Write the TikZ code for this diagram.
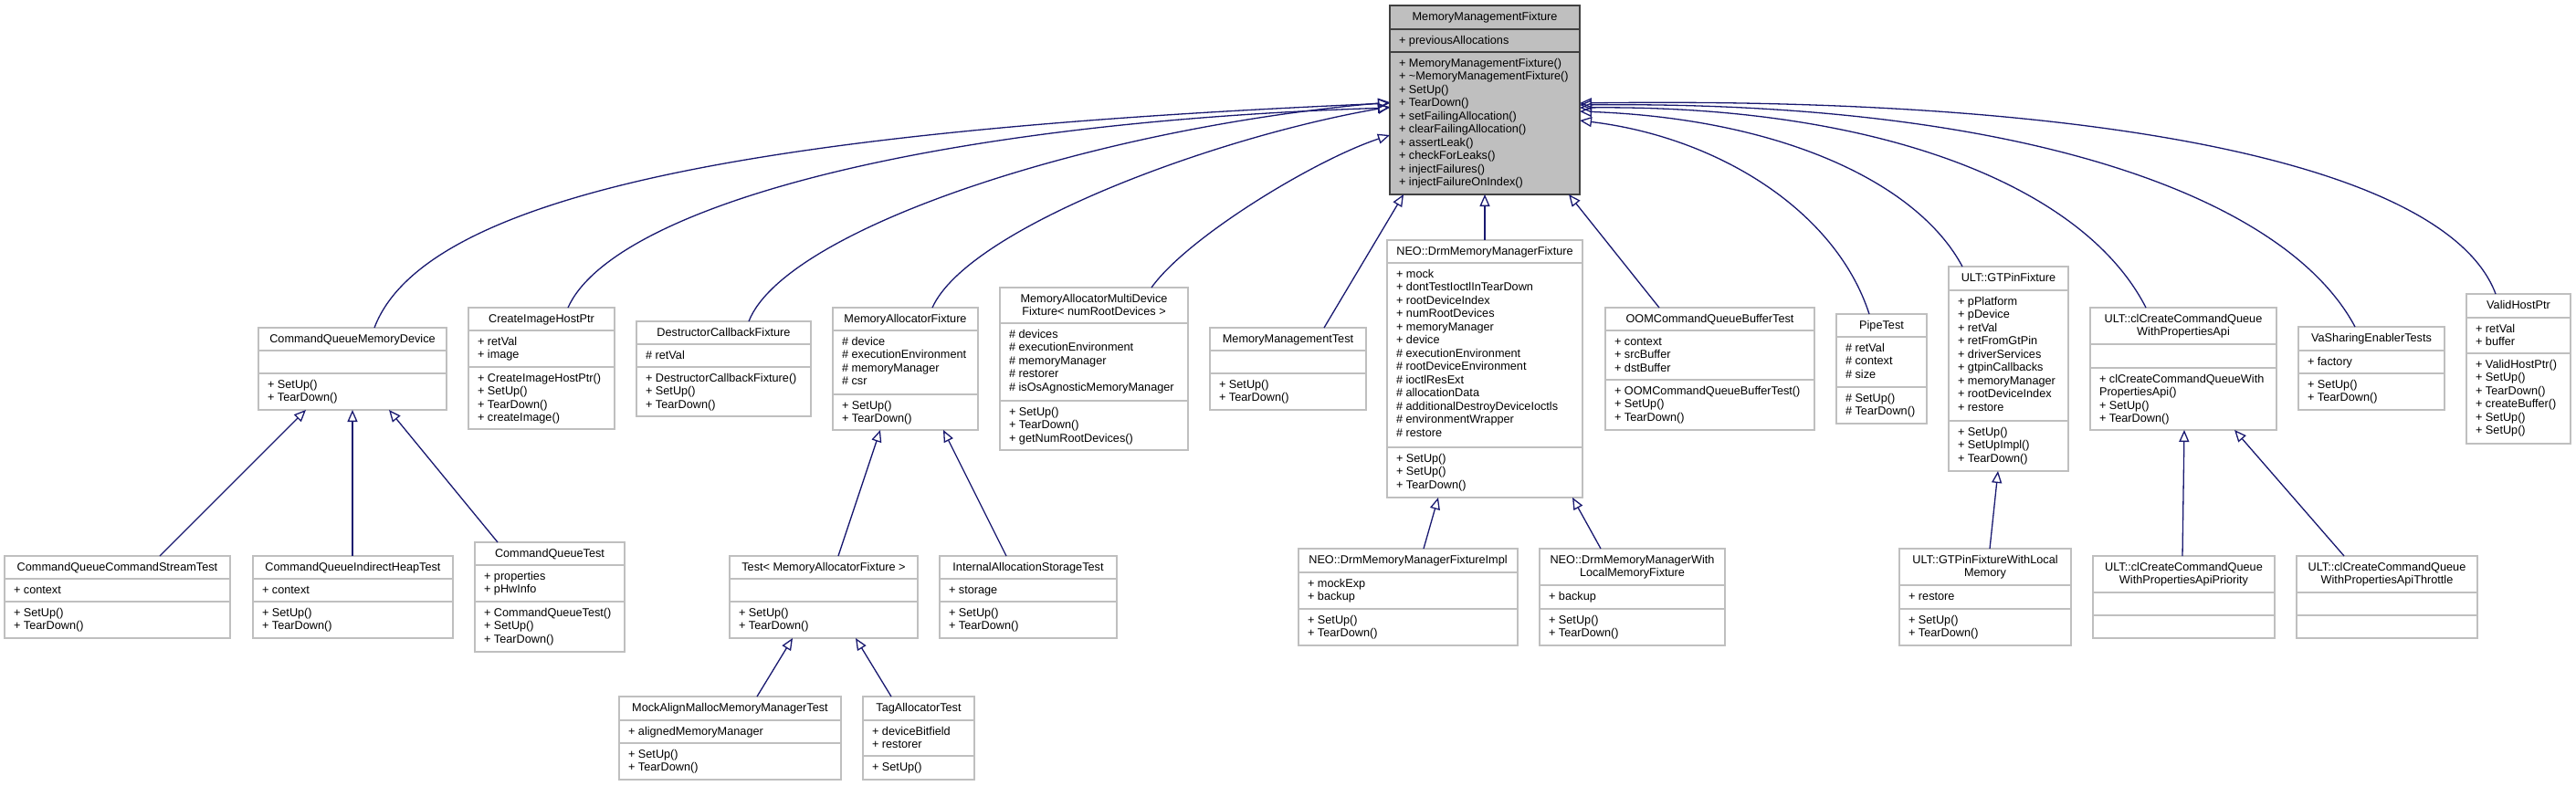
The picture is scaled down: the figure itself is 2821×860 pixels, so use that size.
\documentclass[tikz,border=0pt]{standalone}
\usepackage{fontspec}
\setmainfont{Liberation Sans}
\usetikzlibrary{arrows.meta,fit}
\definecolor{edgeblue}{RGB}{25,25,112}
\definecolor{boxgray}{RGB}{191,191,191}
\definecolor{rootfill}{RGB}{191,191,191}
\definecolor{rootline}{RGB}{64,64,64}
\tikzset{
  cbox/.style={draw=boxgray, line width=1.8pt, inner sep=0pt, outer sep=0pt, fill=white},
  rootbox/.style={draw=rootline, fill=rootfill, line width=1.8pt, inner sep=0pt, outer sep=0pt},
  sepline/.style={draw=boxgray, line width=1.8pt},
  rootsep/.style={draw=rootline, line width=1.8pt},
  txt/.style={inner sep=0pt, outer sep=0pt, font=\fontsize{12.7}{14.5}\selectfont},
  inh/.style={draw=edgeblue, line width=1.3pt, -{Triangle[open,length=13pt,width=11pt]}},
}
% #1 name, #2 x1, #3 y1, #4 x2, #5 y2, #6 header line y, #7 section line y
\newcommand\classbox[7]{%
  \node[cbox, fit={(#2,#3) (#4,#5)}] (#1) {};
  \draw[sepline] (#2,#6) -- (#4,#6);
  \draw[sepline] (#2,#7) -- (#4,#7);
}
% #1 name, #2 x1, #3 x2, #4 top y, #5 lines
\newcommand\hdrtext[5]{%
  \foreach \ltext [count=\i] in {#5} {
    \node[txt, anchor=base] (#1-h\i) at ({(#2+#3)/2},{#4+16+14.5*(\i-1)}) {\ltext};
  }
}
% #1 name, #2 x1, #3 section top y, #4 lines
\newcommand\bodytext[4]{%
  \foreach \ltext [count=\i] in {#4} {
    \node[txt, anchor=base west] (#1-\i) at ({#2+10},{#3+16.3+14.5*(\i-1)}) {\ltext};
  }
}
\begin{document}
\begin{tikzpicture}[x=1pt,y=-1pt]
\useasboundingbox (0,0) rectangle (2821,860);
\fill[white] (0,0) rectangle (2821,860);

% ---------- root ----------
\node[rootbox, fit={(1522,6) (1730,213)}] (root) {};
\draw[rootsep] (1522,32) -- (1730,32);
\draw[rootsep] (1522,57) -- (1730,57);
\hdrtext{root}{1522}{1730}{6}{MemoryManagementFixture}
\bodytext{root-a}{1522}{32}{+ previousAllocations}
\bodytext{root-m}{1522}{57}{+ MemoryManagementFixture(), + \textasciitilde MemoryManagementFixture(), + SetUp(), + TearDown(), + setFailingAllocation(), + clearFailingAllocation(), + assertLeak(), + checkForLeaks(), + injectFailures(), + injectFailureOnIndex()}

% ---------- rank 1 ----------
\classbox{cqmd}{283}{359}{489}{449}{384}{409}
\hdrtext{cqmd}{283}{489}{359}{CommandQueueMemoryDevice}
\bodytext{cqmd-m}{283}{409}{+ SetUp(), + TearDown()}

\classbox{cihp}{513}{337}{673}{470}{362}{402}
\hdrtext{cihp}{513}{673}{337}{CreateImageHostPtr}
\bodytext{cihp-a}{513}{362}{+ retVal, + image}
\bodytext{cihp-m}{513}{402}{+ CreateImageHostPtr(), + SetUp(), + TearDown(), + createImage()}

\classbox{dcf}{697}{352}{888}{456}{377}{402}
\hdrtext{dcf}{697}{888}{352}{DestructorCallbackFixture}
\bodytext{dcf-a}{697}{377}{\# retVal}
\bodytext{dcf-m}{697}{402}{+ DestructorCallbackFixture(), + SetUp(), + TearDown()}

\classbox{maf}{912}{337}{1071}{471}{362}{432}
\hdrtext{maf}{912}{1071}{337}{MemoryAllocatorFixture}
\bodytext{maf-a}{912}{362}{\# device, \# executionEnvironment, \# memoryManager, \# csr}
\bodytext{maf-m}{912}{432}{+ SetUp(), + TearDown()}

\classbox{mamdf}{1095}{315}{1301}{493}{354}{439}
\hdrtext{mamdf}{1095}{1301}{315}{MemoryAllocatorMultiDevice, Fixture< numRootDevices >}
\bodytext{mamdf-a}{1095}{354}{\# devices, \# executionEnvironment, \# memoryManager, \# restorer, \# isOsAgnosticMemoryManager}
\bodytext{mamdf-m}{1095}{439}{+ SetUp(), + TearDown(), + getNumRootDevices()}

\classbox{mmt}{1325}{359}{1496}{449}{384}{409}
\hdrtext{mmt}{1325}{1496}{359}{MemoryManagementTest}
\bodytext{mmt-m}{1325}{409}{+ SetUp(), + TearDown()}

\classbox{dmmf}{1519}{263}{1733}{545}{288}{490}
\hdrtext{dmmf}{1519}{1733}{263}{NEO::DrmMemoryManagerFixture}
\bodytext{dmmf-a}{1519}{288}{+ mock, + dontTestIoctlInTearDown, + rootDeviceIndex, + numRootDevices, + memoryManager, + device, \# executionEnvironment, \# rootDeviceEnvironment, \# ioctlResExt, \# allocationData, \# additionalDestroyDeviceIoctls, \# environmentWrapper, \# restore}
\bodytext{dmmf-m}{1519}{490}{+ SetUp(), + SetUp(), + TearDown()}

\classbox{oom}{1758}{337}{1987}{471}{362}{416}
\hdrtext{oom}{1758}{1987}{337}{OOMCommandQueueBufferTest}
\bodytext{oom-a}{1758}{362}{+ context, + srcBuffer, + dstBuffer}
\bodytext{oom-m}{1758}{416}{+ OOMCommandQueueBufferTest(), + SetUp(), + TearDown()}

\classbox{pipe}{2011}{344}{2110}{464}{369}{424}
\hdrtext{pipe}{2011}{2110}{344}{PipeTest}
\bodytext{pipe-a}{2011}{369}{\# retVal, \# context, \# size}
\bodytext{pipe-m}{2011}{424}{\# SetUp(), \# TearDown()}

\classbox{gtpin}{2134}{292}{2265}{516}{318}{461}
\hdrtext{gtpin}{2134}{2265}{292}{ULT::GTPinFixture}
\bodytext{gtpin-a}{2134}{318}{+ pPlatform, + pDevice, + retVal, + retFromGtPin, + driverServices, + gtpinCallbacks, + memoryManager, + rootDeviceIndex, + restore}
\bodytext{gtpin-m}{2134}{461}{+ SetUp(), + SetUpImpl(), + TearDown()}

\classbox{clapi}{2289}{337}{2493}{471}{377}{403}
\hdrtext{clapi}{2289}{2493}{337}{ULT::clCreateCommandQueue, WithPropertiesApi}
\bodytext{clapi-m}{2289}{403}{+ clCreateCommandQueueWith, PropertiesApi(), + SetUp(), + TearDown()}

\classbox{vas}{2517}{358}{2677}{449}{384}{409}
\hdrtext{vas}{2517}{2677}{358}{VaSharingEnablerTests}
\bodytext{vas-a}{2517}{384}{+ factory}
\bodytext{vas-m}{2517}{409}{+ SetUp(), + TearDown()}

\classbox{vhp}{2701}{322}{2815}{486}{348}{387}
\hdrtext{vhp}{2701}{2815}{322}{ValidHostPtr}
\bodytext{vhp-a}{2701}{348}{+ retVal, + buffer}
\bodytext{vhp-m}{2701}{387}{+ ValidHostPtr(), + SetUp(), + TearDown(), + createBuffer(), + SetUp(), + SetUp()}

% ---------- rank 2 ----------
\classbox{cqcst}{5}{609}{252}{699}{634}{659}
\hdrtext{cqcst}{5}{252}{609}{CommandQueueCommandStreamTest}
\bodytext{cqcst-a}{5}{634}{+ context}
\bodytext{cqcst-m}{5}{659}{+ SetUp(), + TearDown()}

\classbox{cqiht}{277}{609}{496}{699}{634}{659}
\hdrtext{cqiht}{277}{496}{609}{CommandQueueIndirectHeapTest}
\bodytext{cqiht-a}{277}{634}{+ context}
\bodytext{cqiht-m}{277}{659}{+ SetUp(), + TearDown()}

\classbox{cqt}{520}{594}{684}{714}{619}{659}
\hdrtext{cqt}{520}{684}{594}{CommandQueueTest}
\bodytext{cqt-a}{520}{619}{+ properties, + pHwInfo}
\bodytext{cqt-m}{520}{659}{+ CommandQueueTest(), + SetUp(), + TearDown()}

\classbox{tmaf}{799}{609}{1005}{699}{634}{659}
\hdrtext{tmaf}{799}{1005}{609}{Test< MemoryAllocatorFixture >}
\bodytext{tmaf-m}{799}{659}{+ SetUp(), + TearDown()}

\classbox{iast}{1029}{609}{1223}{699}{634}{659}
\hdrtext{iast}{1029}{1223}{609}{InternalAllocationStorageTest}
\bodytext{iast-a}{1029}{634}{+ storage}
\bodytext{iast-m}{1029}{659}{+ SetUp(), + TearDown()}

\classbox{dmmfi}{1422}{601}{1662}{707}{627}{667}
\hdrtext{dmmfi}{1422}{1662}{601}{NEO::DrmMemoryManagerFixtureImpl}
\bodytext{dmmfi-a}{1422}{627}{+ mockExp, + backup}
\bodytext{dmmfi-m}{1422}{667}{+ SetUp(), + TearDown()}

\classbox{dmmwl}{1686}{601}{1889}{707}{641}{667}
\hdrtext{dmmwl}{1686}{1889}{601}{NEO::DrmMemoryManagerWith, LocalMemoryFixture}
\bodytext{dmmwl-a}{1686}{641}{+ backup}
\bodytext{dmmwl-m}{1686}{667}{+ SetUp(), + TearDown()}

\classbox{gtpinl}{2080}{601}{2268}{707}{641}{667}
\hdrtext{gtpinl}{2080}{2268}{601}{ULT::GTPinFixtureWithLocal, Memory}
\bodytext{gtpinl-a}{2080}{641}{+ restore}
\bodytext{gtpinl-m}{2080}{667}{+ SetUp(), + TearDown()}

\classbox{prio}{2292}{609}{2491}{699}{649}{674}
\hdrtext{prio}{2292}{2491}{609}{ULT::clCreateCommandQueue, WithPropertiesApiPriority}

\classbox{thr}{2515}{609}{2713}{699}{649}{674}
\hdrtext{thr}{2515}{2713}{609}{ULT::clCreateCommandQueue, WithPropertiesApiThrottle}

% ---------- rank 3 ----------
\classbox{mam}{678}{763}{921}{854}{789}{814}
\hdrtext{mam}{678}{921}{763}{MockAlignMallocMemoryManagerTest}
\bodytext{mam-a}{678}{789}{+ alignedMemoryManager}
\bodytext{mam-m}{678}{814}{+ SetUp(), + TearDown()}

\classbox{tat}{945}{763}{1067}{854}{789}{828}
\hdrtext{tat}{945}{1067}{763}{TagAllocatorTest}
\bodytext{tat-a}{945}{789}{+ deviceBitfield, + restorer}
\bodytext{tat-m}{945}{828}{+ SetUp()}

% ---------- inheritance edges ----------
\draw[inh] ([xshift=127pt]cqmd.north west) .. controls (470,200) and (900,140) .. ([yshift=-107pt]root.north west);
\draw[inh] ([xshift=109pt]cihp.north west) .. controls (670,230) and (1000,135) .. ([yshift=-112pt]root.north west);
\draw[inh] ([xshift=123pt]dcf.north west) .. controls (860,250) and (1200,140) .. ([yshift=-106pt]root.north west);
\draw[inh] ([xshift=109pt]maf.north west) .. controls (1060,250) and (1330,150) .. ([yshift=-111pt]root.north west);
\draw[inh] ([xshift=166pt]mamdf.north west) .. controls (1300,260) and (1440,175) .. ([yshift=-142pt]root.north west);
\draw[inh] ([xshift=125pt]mmt.north west) -- ([xshift=15pt]root.south west);
\draw[inh] ([xshift=107pt]dmmf.north west) -- ([xshift=104pt]root.south west);
\draw[inh] ([xshift=59pt]oom.north west) -- ([xshift=196pt]root.south west);
\draw[inh] ([xshift=36pt]pipe.north west) .. controls (2010,230) and (1880,150) .. ([yshift=-126pt]root.north east);
\draw[inh] ([xshift=15pt]gtpin.north west) .. controls (2100,200) and (1950,130) .. ([yshift=-116pt]root.north east);
\draw[inh] ([xshift=61pt]clapi.north west) .. controls (2280,200) and (2050,115) .. ([yshift=-112pt]root.north east);
\draw[inh] ([xshift=62pt]vas.north west) .. controls (2500,210) and (2200,110) .. ([yshift=-109pt]root.north east);
\draw[inh] ([xshift=32pt]vhp.north west) .. controls (2680,180) and (2300,105) .. ([yshift=-107pt]root.north east);

\draw[inh] ([xshift=170pt]cqcst.north west) -- ([xshift=52pt]cqmd.south west);
\draw[inh] ([xshift=109pt]cqiht.north west) -- ([xshift=103pt]cqmd.south west);
\draw[inh] ([xshift=25pt]cqt.north west) -- ([xshift=143pt]cqmd.south west);
\draw[inh] ([xshift=119pt]tmaf.north west) -- ([xshift=52pt]maf.south west);
\draw[inh] ([xshift=73pt]iast.north west) -- ([xshift=121pt]maf.south west);
\draw[inh] ([xshift=137pt]dmmfi.north west) -- ([xshift=56pt]dmmf.south west);
\draw[inh] ([xshift=67pt]dmmwl.north west) -- ([xshift=203pt]dmmf.south west);
\draw[inh] ([xshift=99pt]gtpinl.north west) -- ([xshift=54pt]gtpin.south west);
\draw[inh] ([xshift=98pt]prio.north west) -- ([xshift=103pt]clapi.south west);
\draw[inh] ([xshift=52pt]thr.north west) -- ([xshift=158pt]clapi.south west);
\draw[inh] ([xshift=151pt]mam.north west) -- ([xshift=69pt]tmaf.south west);
\draw[inh] ([xshift=31pt]tat.north west) -- ([xshift=138pt]tmaf.south west);
\end{tikzpicture}
\end{document}
